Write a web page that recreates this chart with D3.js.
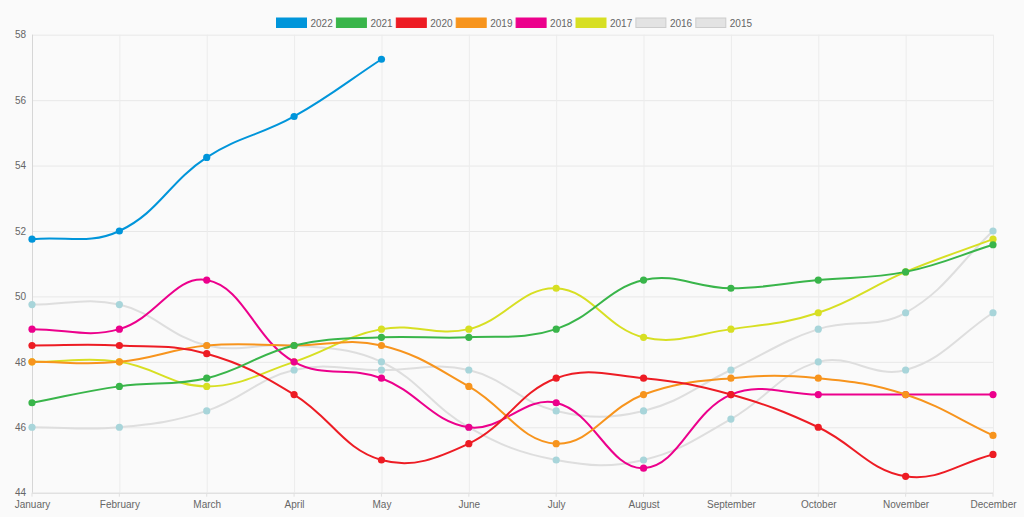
<!DOCTYPE html>
<html>
<head>
<meta charset="utf-8">
<script src="https://cdn.jsdelivr.net/npm/d3@7"></script>
<style>
  html, body { margin: 0; padding: 0; background: #fafafa; }
  svg { display: block; font-family: "Liberation Sans", Arial, Helvetica, sans-serif; }
</style>
</head>
<body>
<svg id="chart" width="1024" height="517"></svg>
<script>
// ---- data ----
const months = ['January', 'February', 'March', 'April', 'May', 'June',
  'July', 'August', 'September', 'October', 'November', 'December'];
const yTicks = [44, 46, 48, 50, 52, 54, 56, 58];

const years = ['2022', '2021', '2020', '2019', '2018', '2017', '2016', '2015'];
const lineColors = ['#0095da', '#39b54a', '#ed1c24', '#f7941d', '#ec008c', '#d7df23', '#dedede', '#dedede'];
const pointColors = ['#0095da', '#39b54a', '#ed1c24', '#f7941d', '#ec008c', '#d7df23', '#a8d5da', '#a8d5da'];

const v2022 = [51.75, 52, 54.25, 55.5, 57.25];
const v2021 = [46.75, 47.25, 47.5, 48.5, 48.75, 48.75, 49, 50.5, 50.25, 50.5, 50.75, 51.58];
const v2020 = [48.5, 48.5, 48.25, 47, 45, 45.5, 47.5, 47.5, 47, 46, 44.5, 45.17];
const v2019 = [48, 48, 48.5, 48.5, 48.5, 47.25, 45.5, 47, 47.5, 47.5, 47, 45.75];
const v2018 = [49, 49, 50.5, 48, 47.5, 46, 46.75, 44.75, 47, 47, 47, 47];
const v2017 = [48, 48, 47.25, 48, 49, 49, 50.25, 48.75, 49, 49.5, 50.75, 51.75];
const v2016 = [49.75, 49.75, 48.5, 48.5, 48, 46, 45, 45, 46.25, 48, 47.75, 49.5];
const v2015 = [46, 46, 46.5, 47.75, 47.75, 47.75, 46.5, 46.5, 47.75, 49, 49.5, 52];

const seriesValues = [v2022, v2021, v2020, v2019, v2018, v2017, v2016, v2015];

// ---- layout ----
const W = 1024, H = 517;
const margin = { top: 34.7, right: 31, bottom: 24.3, left: 32 };
const width = W - margin.left - margin.right;
const height = H - margin.top - margin.bottom;

const svg = d3.select('#chart');
const g = svg.append('g')
  .attr('transform', `translate(${margin.left}, ${margin.top})`);

const x = d3.scalePoint().domain(months).range([0, width]);
const y = d3.scaleLinear().domain([44, 58]).range([height, 0]);

// Grid + axes
const yAxis = g.append('g')
  .call(d3.axisLeft(y).tickValues(yTicks).tickSizeInner(-width).tickSizeOuter(0).tickPadding(6));
yAxis.select('.domain').remove();
yAxis.selectAll('line').attr('stroke', d => d === 44 ? '#d6d6d6' : '#e8e8e8');
yAxis.selectAll('text').attr('fill', '#666').style('font-size', '10px');

const xAxis = g.append('g')
  .attr('transform', `translate(0, ${height})`)
  .call(d3.axisBottom(x).tickSizeInner(-height).tickSizeOuter(0).tickPadding(8));
xAxis.select('.domain').remove();
xAxis.selectAll('line').attr('stroke', (d, i) => i === 0 ? '#d6d6d6' : '#ececec');
xAxis.selectAll('text').attr('fill', '#666').style('font-size', '10px');

// small tick marks outside the plot
g.append('g').selectAll('line').data(months).join('line')
  .attr('x1', d => x(d)).attr('x2', d => x(d))
  .attr('y1', height).attr('y2', height + 4)
  .attr('stroke', '#e0e0e0');

// Chart.js style bezier spline (tension 0.4)
function chartSpline(context) {
  let pts = [];
  const t = 0.4;
  return {
    areaStart() {}, areaEnd() {},
    lineStart() { pts = []; },
    point(px, py) { pts.push([px, py]); },
    lineEnd() {
      const n = pts.length;
      if (!n) return;
      const cps = pts.map((cur, i) => {
        const prev = pts[Math.max(i - 1, 0)];
        const next = pts[Math.min(i + 1, n - 1)];
        const d01 = Math.hypot(cur[0] - prev[0], cur[1] - prev[1]);
        const d12 = Math.hypot(next[0] - cur[0], next[1] - cur[1]);
        let s01 = d01 / (d01 + d12), s12 = d12 / (d01 + d12);
        if (isNaN(s01)) s01 = 0;
        if (isNaN(s12)) s12 = 0;
        const fa = t * s01, fb = t * s12;
        return {
          prev: [cur[0] - fa * (next[0] - prev[0]), cur[1] - fa * (next[1] - prev[1])],
          next: [cur[0] + fb * (next[0] - prev[0]), cur[1] + fb * (next[1] - prev[1])]
        };
      });
      context.moveTo(pts[0][0], pts[0][1]);
      for (let i = 1; i < n; i++) {
        const a = cps[i - 1].next, b = cps[i].prev;
        context.bezierCurveTo(a[0], a[1], b[0], b[1], pts[i][0], pts[i][1]);
      }
    }
  };
}

const line = d3.line()
  .x((d, i) => x(months[i]))
  .y(d => y(d))
  .curve(chartSpline);

// draw last dataset first so 2022 ends on top
const order = d3.range(years.length).reverse();
order.forEach(k => {
  const s = g.append('g');
  s.append('path')
    .datum(seriesValues[k])
    .attr('fill', 'none')
    .attr('stroke', lineColors[k])
    .attr('stroke-width', 2)
    .attr('d', line);
  s.selectAll('circle')
    .data(seriesValues[k])
    .join('circle')
    .attr('cx', (d, i) => x(months[i]))
    .attr('cy', d => y(d))
    .attr('r', 3.6)
    .attr('fill', pointColors[k]);
});

// Legend
const legend = svg.append('g').attr('transform', 'translate(276.5, 18)');
const item = legend.selectAll('g').data(years).join('g')
  .attr('transform', (d, i) => `translate(${i * 59.9}, 0)`);
item.append('rect')
  .attr('width', 30).attr('height', 9.5)
  .attr('fill', (d, i) => i >= 6 ? '#e3e3e3' : lineColors[i])
  .attr('stroke', (d, i) => i >= 6 ? '#cccccc' : lineColors[i])
  .attr('stroke-width', 1);
item.append('text')
  .attr('x', 34).attr('y', 5)
  .attr('dy', '0.35em')
  .attr('fill', '#666')
  .style('font-size', '10px')
  .text(d => d);
</script>
</body>
</html>
